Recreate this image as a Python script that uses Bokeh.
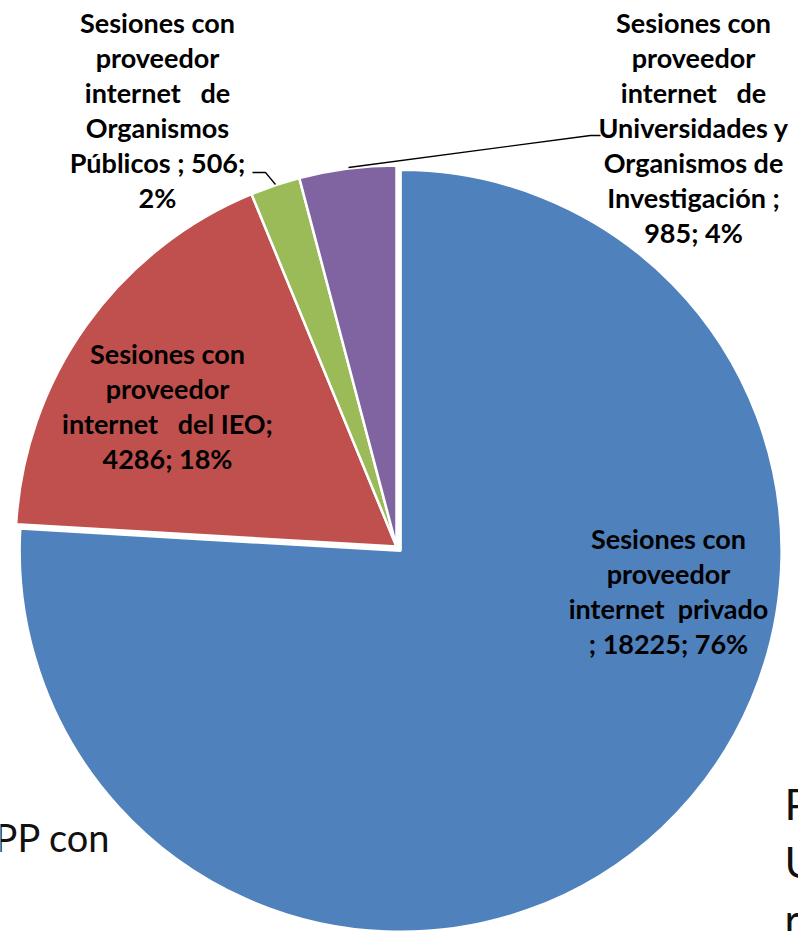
import math
from bokeh.plotting import figure
from bokeh.models import ColumnDataSource, Range1d
from bokeh.core.properties import value
from bokeh.embed import file_html
from bokeh.resources import INLINE

# ---- data ----
categories = [
    "Sesiones con proveedor internet  privado",
    "Sesiones con proveedor internet   del IEO",
    "Sesiones con proveedor internet   de Organismos Públicos",
    "Sesiones con proveedor internet   de Universidades y Organismos de Investigación",
]
values = [18225, 4286, 506, 985]
colors = ["#4F81BD", "#C0504D", "#9BBB59", "#8064A2"]

total = sum(values)
pcts = [round(v / total * 100) for v in values]

NB = "\u00a0"
label_lines = [
    ["Sesiones con", "proveedor", f"internet{NB} privado", f"; {values[0]}; {pcts[0]}%"],
    ["Sesiones con", "proveedor", f"internet{NB}{NB} del IEO;", f"{values[1]}; {pcts[1]}%"],
    ["Sesiones con", "proveedor", f"internet{NB}{NB} de", "Organismos", f"Públicos ; {values[2]};", f"{pcts[2]}%"],
    ["Sesiones con", "proveedor", f"internet{NB}{NB} de", "Universidades y", "Organismos de",
     "Investigación ;", f"{values[3]}; {pcts[3]}%"],
]

# ---- layout (screen pixel coordinates) ----
W, H = 798, 931


def sy(y):
    return H - y


cx, cy = 396, sy(546)
R = 381
explode = [6, 0, 0, 0]
label_pos = [(668, 538), (167, 353), (157, 22), (693, 22)]
line_gap = 35

p = figure(width=W, height=H, output_backend="svg", toolbar_location=None,
           x_range=Range1d(0, W), y_range=Range1d(0, H),
           min_border=0, outline_line_color=None)
p.axis.visible = False
p.xgrid.visible = False
p.ygrid.visible = False
p.background_fill_color = "white"
p.border_fill_color = "white"

# background slide text partially hidden by the pie
p.text(x=[110], y=[sy(836)], text=["PP con"], text_font=value("Lato"),
       text_font_size="38px", text_align="right", text_baseline="middle",
       text_color="#111111")
p.text(x=[784, 784, 784], y=[sy(803), sy(861), sy(918)], text=["P", "U", "r"],
       text_font=value("Lato"), text_font_size="43px", text_align="left",
       text_baseline="middle", text_color="#111111")

# wedges
xs, ys, starts, ends = [], [], [], []
cum = 0.0
for v, e in zip(values, explode):
    f0 = cum / total
    cum += v
    f1 = cum / total
    a0 = math.pi / 2 - f0 * 2 * math.pi
    a1 = math.pi / 2 - f1 * 2 * math.pi
    mid = (a0 + a1) / 2
    xs.append(cx + e * math.cos(mid))
    ys.append(cy + e * math.sin(mid))
    starts.append(a0)
    ends.append(a1)

src = ColumnDataSource(dict(x=xs, y=ys, start=starts, end=ends, color=colors,
                            cat=categories, val=values))
p.wedge(x="x", y="y", radius=R, start_angle="start", end_angle="end",
        direction="clock", fill_color="color", line_color="white",
        line_width=2.5, source=src)

# leader lines
p.line(x=[252, 265, 275], y=[sy(172), sy(172), sy(184)], line_color="black", line_width=1.3)
p.line(x=[348, 590, 600], y=[sy(167), sy(135), sy(135)], line_color="black", line_width=1.3)

# labels
tx, ty, tt = [], [], []
for (lx, ly), lines in zip(label_pos, label_lines):
    for i, t in enumerate(lines):
        tx.append(lx)
        ty.append(sy(ly + i * line_gap))
        tt.append(t)
p.text(x=tx, y=ty, text=tt, text_font=value("Lato"), text_font_style="bold",
       text_font_size="27px", text_align="center", text_baseline="middle",
       text_color="black")

open("out.html", "w").write(file_html(p, INLINE))
